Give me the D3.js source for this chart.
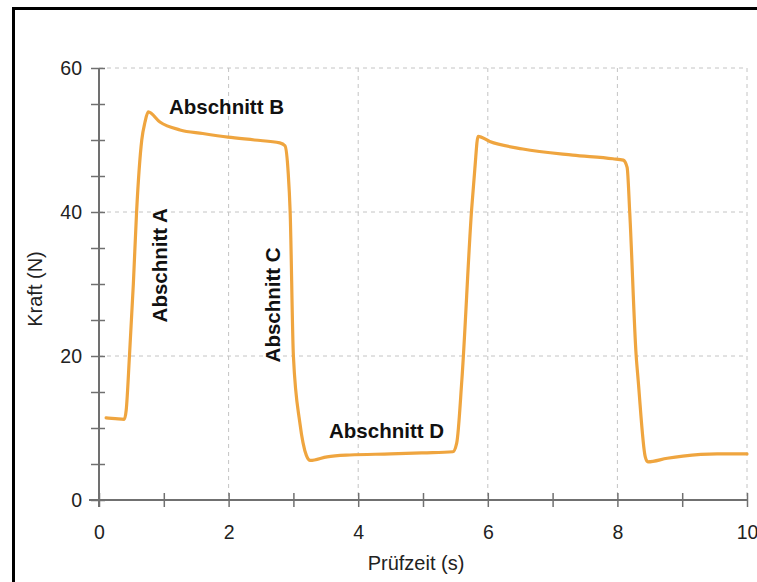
<!DOCTYPE html>
<html>
<head>
<meta charset="utf-8">
<script src="https://cdn.jsdelivr.net/npm/d3@7"></script>
<style>
  body { margin: 0; background: #fff; }
  text { font-family: "Liberation Sans", Arial, sans-serif; }
</style>
</head>
<body>
<div id="wrapper"></div>
<script>
// measured curve: time (s) and force (N)
const time = [0.11, 0.25, 0.39, 0.42, 0.47, 0.53, 0.58, 0.66, 0.71, 0.76,
  0.94, 1.25, 1.6, 1.99, 2.4, 2.79, 2.87, 2.92, 2.95, 3.0, 3.1, 3.2, 3.26,
  3.52, 3.87, 4.5, 5.0, 5.46, 5.52, 5.6, 5.75, 5.8, 5.85,
  6.03, 6.54, 7.31, 7.93, 8.09, 8.15, 8.19, 8.29, 8.32, 8.43, 8.47,
  8.77, 9.01, 9.54, 10.0];
const force = [11.4, 11.3, 11.2, 12.5, 20, 30, 40, 50, 52.5, 53.9,
  52.5, 51.4, 50.9, 50.4, 50.0, 49.6, 49.2, 45.4, 40, 20, 10.7, 6.2, 5.5,
  6.0, 6.25, 6.4, 6.55, 6.7, 7.9, 16.7, 40.3, 46, 50.5,
  49.8, 48.75, 47.9, 47.4, 47.2, 46.2, 40, 20, 16.7, 6.0, 5.3,
  5.8, 6.1, 6.4, 6.4];

const xTicks = d3.range(0, 11, 1);
const yTicks = d3.range(0, 61, 5);
const xLabels = [0, 2, 4, 6, 8, 10];
const yLabels = [0, 20, 40, 60];

const annotations = [
  { text: "Abschnitt A", t: 1.05, f: 32.6, rotate: true },
  { text: "Abschnitt B", t: 1.08, f: 53.6, rotate: false },
  { text: "Abschnitt C", t: 2.79, f: 27.1, rotate: true },
  { text: "Abschnitt D", t: 3.55, f: 8.6, rotate: false }
];

const data = time.map((t, i) => ({ t, f: force[i] }));

const dimensions = {
  width: 757,
  height: 582,
  margin: { top: 68, right: 10, bottom: 82, left: 99 }
};
dimensions.boundedWidth = dimensions.width - dimensions.margin.left - dimensions.margin.right;
dimensions.boundedHeight = dimensions.height - dimensions.margin.top - dimensions.margin.bottom;

const axisColor = "#707070";
const gridColor = "#c4c4c4";

const svg = d3.select("#wrapper")
  .append("svg")
  .attr("width", dimensions.width)
  .attr("height", dimensions.height);

// frame (right and bottom cut off in the original)
svg.append("rect")
  .attr("x", 13.5)
  .attr("y", 8.5)
  .attr("width", 800)
  .attr("height", 700)
  .attr("fill", "none")
  .attr("stroke", "#000")
  .attr("stroke-width", 3);

const bounds = svg.append("g")
  .attr("transform", `translate(${dimensions.margin.left},${dimensions.margin.top})`);

const xScale = d3.scaleLinear()
  .domain([0, 10])
  .range([0, dimensions.boundedWidth]);

const yScale = d3.scaleLinear()
  .domain([0, 60])
  .range([dimensions.boundedHeight, 0]);

// grid
bounds.append("g")
  .selectAll("line")
  .data(yLabels.filter(d => d > 0))
  .join("line")
  .attr("x1", 0)
  .attr("x2", dimensions.boundedWidth)
  .attr("y1", d => yScale(d))
  .attr("y2", d => yScale(d))
  .attr("stroke", gridColor)
  .attr("stroke-dasharray", "4,4");

bounds.append("g")
  .selectAll("line")
  .data(xLabels.filter(d => d > 0))
  .join("line")
  .attr("x1", d => xScale(d))
  .attr("x2", d => xScale(d))
  .attr("y1", 0)
  .attr("y2", dimensions.boundedHeight)
  .attr("stroke", gridColor)
  .attr("stroke-dasharray", "4,4");

// x axis
const xAxisGenerator = d3.axisBottom(xScale)
  .tickValues(xTicks)
  .tickSizeOuter(0)
  .tickFormat(d => xLabels.includes(d) ? d : "");

const xAxis = bounds.append("g")
  .attr("transform", `translate(0,${dimensions.boundedHeight})`)
  .attr("font-family", null)
  .call(xAxisGenerator);
xAxis.select(".domain").remove();
xAxis.selectAll(".tick line")
  .attr("y1", -7).attr("y2", 7)
  .attr("stroke", axisColor).attr("stroke-width", 1.5);
xAxis.selectAll(".tick text")
  .attr("y", 39).attr("dy", null)
  .attr("font-size", 19.5)
  .attr("fill", "#222");
xAxis.append("line")
  .attr("x1", -10).attr("x2", dimensions.boundedWidth)
  .attr("stroke", axisColor).attr("stroke-width", 2);

// y axis
const yAxisGenerator = d3.axisLeft(yScale)
  .tickValues(yTicks)
  .tickSizeOuter(0)
  .tickFormat(d => yLabels.includes(d) ? d : "");

const yAxis = bounds.append("g").call(yAxisGenerator);
yAxis.select(".domain").remove();
yAxis.selectAll(".tick line")
  .attr("x1", -8).attr("x2", 6)
  .attr("stroke", axisColor).attr("stroke-width", 1.5);
yAxis.selectAll(".tick text")
  .attr("x", -17)
  .attr("font-size", 19.5)
  .attr("fill", "#222");
yAxis.append("line")
  .attr("y1", 0).attr("y2", dimensions.boundedHeight + 7)
  .attr("stroke", axisColor).attr("stroke-width", 2);
xAxis.attr("font-family", null);
yAxis.attr("font-family", null);

// line
const lineGenerator = d3.line()
  .x(d => xScale(d.t))
  .y(d => yScale(d.f))
  .curve(d3.curveMonotoneX);

bounds.append("path")
  .attr("d", lineGenerator(data))
  .attr("fill", "none")
  .attr("stroke", "#EFA53F")
  .attr("stroke-width", 3.2)
  .attr("stroke-linejoin", "round")
  .attr("stroke-linecap", "round");

// annotations
bounds.append("g")
  .selectAll("text")
  .data(annotations)
  .join("text")
  .attr("transform", d => d.rotate
    ? `translate(${xScale(d.t)},${yScale(d.f)}) rotate(-90)`
    : `translate(${xScale(d.t)},${yScale(d.f)})`)
  .attr("text-anchor", d => d.rotate ? "middle" : "start")
  .attr("font-size", 20.5)
  .attr("font-weight", "bold")
  .attr("fill", "#111")
  .text(d => d.text);

// axis titles
svg.append("text")
  .attr("transform", "translate(42,289) rotate(-90)")
  .attr("text-anchor", "middle")
  .attr("font-size", 20)
  .attr("fill", "#222")
  .text("Kraft (N)");

svg.append("text")
  .attr("x", 416)
  .attr("y", 570)
  .attr("text-anchor", "middle")
  .attr("font-size", 20)
  .attr("fill", "#222")
  .text("Prüfzeit (s)");
</script>
</body>
</html>
